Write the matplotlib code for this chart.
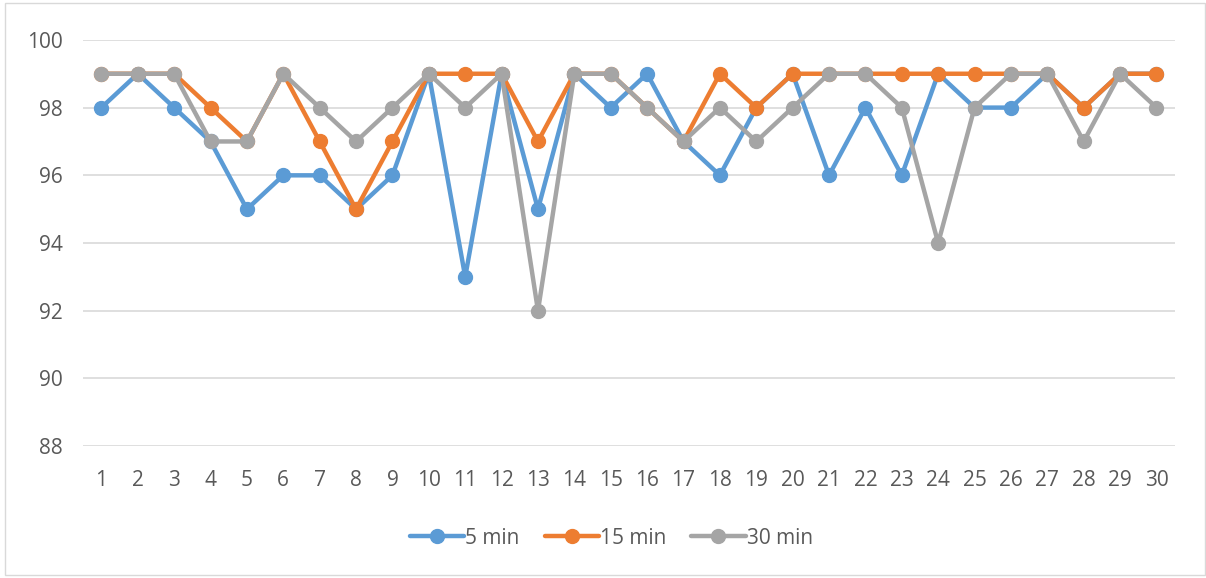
import matplotlib as mpl
mpl.use('Agg')
import matplotlib.pyplot as plt
from matplotlib.patches import Rectangle

runs = list(range(1, 31))
five_min = [98, 99, 98, 97, 95, 96, 96, 95, 96, 99, 93, 99, 95, 99, 98,
            99, 97, 96, 98, 99, 96, 98, 96, 99, 98, 98, 99, 98, 99, 99]
fifteen_min = [99, 99, 99, 98, 97, 99, 97, 95, 97, 99, 99, 99, 97, 99, 99,
               98, 97, 99, 98, 99, 99, 99, 99, 99, 99, 99, 99, 98, 99, 99]
thirty_min = [99, 99, 99, 97, 97, 99, 98, 97, 98, 99, 98, 99, 92, 99, 99,
              98, 97, 98, 97, 98, 99, 99, 98, 94, 98, 99, 99, 97, 99, 98]
series_names = ['5 min', '15 min', '30 min']
colors = ['#5B9BD5', '#ED7D31', '#A5A5A5']

plt.rcParams['font.family'] = ['Open Sans', 'DejaVu Sans']

fig = plt.figure(figsize=(12.06, 5.78), dpi=100)
ax = fig.add_axes([0.069, 0.228, 0.905, 0.703])

for vals, name, c in zip([five_min, fifteen_min, thirty_min], series_names, colors):
    ax.plot(runs, vals, color=c, lw=3.2, marker='o', markersize=10,
            markeredgecolor=c, label=name, solid_capstyle='round')

ax.set_xlim(0.5, 30.5)
ax.set_ylim(88, 100)
ax.set_yticks(range(88, 101, 2))
ax.set_xticks(runs)
ax.tick_params(axis='y', length=0, labelsize=15, colors='#595959', pad=15)
ax.tick_params(axis='x', length=0, labelsize=15, colors='#595959', pad=17)
ax.grid(axis='y', color='#D9D9D9', lw=1.2)
ax.set_axisbelow(True)
for s in ax.spines.values():
    s.set_visible(False)

leg = fig.legend(loc='center', bbox_to_anchor=(0.507, 0.069), ncol=3, frameon=False,
                 fontsize=15, handlelength=2.6, handletextpad=0.05, columnspacing=1.2,
                 labelcolor='#595959')

# thin frame around the whole chart
fig.patches.append(Rectangle((0.004, 0.005), 0.995, 0.99, transform=fig.transFigure,
                             fill=False, edgecolor='#D9D9D9', lw=1))

fig.savefig('out.png', dpi=100)
